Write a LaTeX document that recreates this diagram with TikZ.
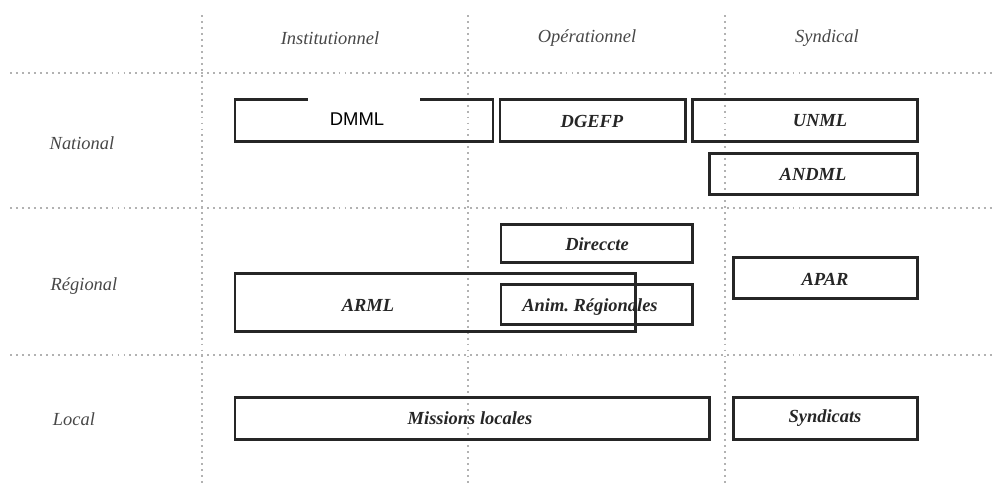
\documentclass[tikz,border=0pt]{standalone}
\usepackage{fontspec}
\setmainfont{Liberation Serif}
\newfontfamily\arialfont{Liberation Sans}
\usepackage{tikz}

\begin{document}
\frenchspacing
\begin{tikzpicture}[x=0.02cm,y=0.02cm]
        \tikzstyle{every node}+=[inner sep=0pt]
        \tikzstyle{grille}=[gray!60,line width=1.1pt,dash pattern=on 1.1pt off 2.3pt]
        \tikzstyle{boite}=[black!85,line width=1.7pt]
        \tikzstyle{titre}=[black!72,font=\itshape\fontsize{10.5}{12}\selectfont]
        \tikzstyle{etiq}=[black!85,font=\bfseries\itshape\fontsize{10.5}{12}\selectfont]
        \useasboundingbox (0,0) rectangle (994,-485);
        % grille
        \draw [grille] (10,-73) -- (994,-73);
        \draw [grille] (10,-208) -- (994,-208);
        \draw [grille] (10,-355) -- (994,-355);
        \draw [grille] (202,-15) -- (202,-485);
        \draw [grille] (468,-15) -- (468,-485);
        \draw [grille] (725,-15) -- (725,-485);
        % titres
        \draw (330,-38) node [titre] (inst) {Institutionnel};
        \draw (587,-38) node [titre] (oper) {Opérationnel};
        \draw (827,-38) node [titre] (synd) {Syndical};
        \draw (82,-143) node [titre] (nat) {National};
        \draw (84,-286) node [titre] (reg) {Régional};
        \draw (74,-419) node [titre] (loc) {Local};
        % national
        \draw [boite] (235,-99) rectangle (493,-141);
        \fill [white] (308,-95) rectangle (420,-128);
        \draw (357,-119) node [font=\arialfont\fontsize{10.5}{12}\selectfont] (dmml) {DMML};
        \draw [boite] (500,-99) rectangle (685,-141);
        \draw (592,-121) node [etiq] (dgefp) {DGEFP};
        \draw [boite] (692,-99) rectangle (917,-141);
        \draw (820,-121) node [etiq] (unml) {UNML};
        \draw [boite] (709,-153) rectangle (917,-194);
        \draw (813,-174) node [etiq] (andml) {ANDML};
        % regional
        \draw [boite] (501,-224) rectangle (692,-262);
        \draw (597,-244) node [etiq] (direccte) {Direccte};
        \draw [boite] (235,-273) rectangle (635,-331);
        \draw (368,-305) node [etiq] (arml) {ARML};
        \draw [boite] (501,-284) rectangle (692,-324);
        \draw (590,-307) node [etiq] (anim) {Anim. Régionales};
        \draw [boite] (733,-257) rectangle (917,-298);
        \draw (825,-279) node [etiq] (apar) {APAR};
        % local
        \draw [boite] (235,-397) rectangle (709,-439);
        \draw (470,-418) node [etiq] (mission) {Missions locales};
        \draw [boite] (733,-397) rectangle (917,-439);
        \draw (825,-418) node [etiq] (syndicats) {Syndicats};
\end{tikzpicture}
\end{document}
